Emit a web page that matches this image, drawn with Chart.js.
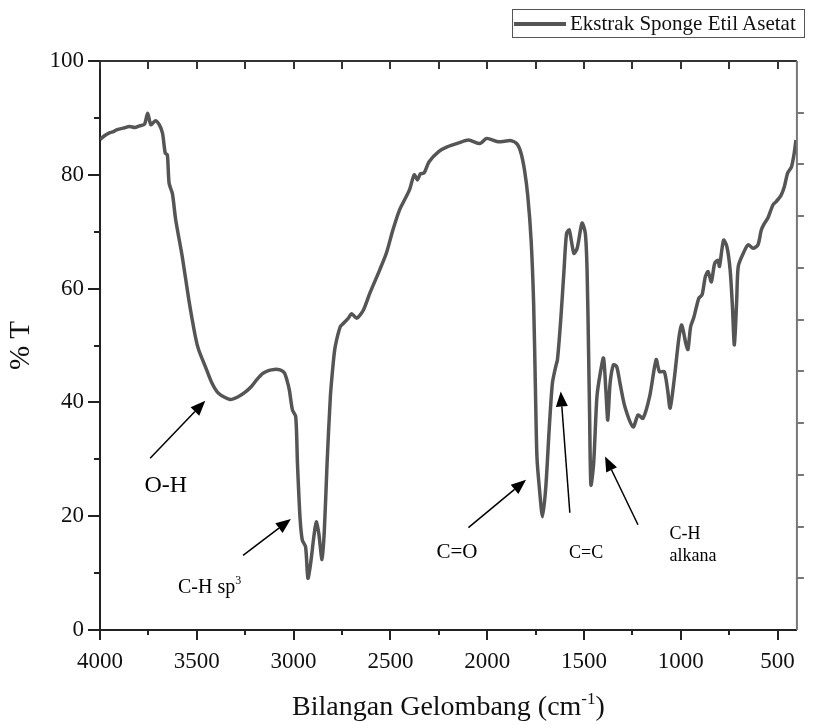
<!DOCTYPE html>
<html>
<head>
<meta charset="utf-8">
<script src="https://cdn.jsdelivr.net/npm/chart.js@4.4.1/dist/chart.umd.min.js"></script>
<style>
  html,body{margin:0;padding:0;background:#fff}
  #wrap{position:relative;width:813px;height:725px}
  #legend{position:absolute;left:512px;top:9px;width:293px;height:29px;border:1.5px solid #555;box-sizing:border-box;
    font:21px "Liberation Serif";color:#111;display:flex;align-items:center;white-space:nowrap}
  #legend .swatch{display:inline-block;width:52px;height:4px;background:#555;margin:0 4px 0 1px}
</style>
</head>
<body>
<div id="wrap">
  <canvas id="ftir" width="813" height="725" style="width:813px;height:725px"></canvas>
  <div id="legend"><span class="swatch"></span><span id="legendText"></span></div>
</div>
<script>
/* FTIR spectrum of the ethyl acetate sponge extract */
const seriesLabel = 'Ekstrak Sponge Etil Asetat';

const wavenumbers = [
  4000,3975,3949,3930,3915,3880,3847,3820,3796,3770,3754,3737,3714,3694,3677,3663,3652,3643,3626,3609,
  3575,3541,3507,3490,3456,3422,3388,3328,3286,3250,3218,3190,3159,3130,3099,3070,3048,3035,3022,3006,
  2989,2980,2967,2955,2938,2926,2912,2895,2883,2870,2853,2841,2827,2810,2795,2785,2759,2742,2717,2700,
  2674,2640,2606,2555,2521,2487,2453,2402,2377,2360,2345,2326,2300,2249,2207,2147,2096,2037,2003,1944,
  1876,1845,1825,1807,1790,1773,1760,1751,1743,1731,1714,1697,1680,1663,1646,1637,1620,1603,1590,1576,
  1552,1535,1510,1493,1484,1476,1471,1464,1450,1433,1416,1399,1387,1377,1365,1348,1331,1314,1289,1246,
  1220,1195,1161,1127,1110,1085,1068,1055,1034,1009,995,974,963,949,932,907,890,873,859,842,
  825,808,800,779,762,745,733,723,711,703,677,652,626,601,584,567,550,524,507,482,
  465,448,428,414,405
];
const transmittance = [
  86.2,86.9,87.4,87.6,87.9,88.2,88.5,88.3,88.6,88.9,90.8,88.8,89.5,88.8,87.3,83.8,83.5,78.5,76.7,72.1,
  65.6,58.0,51.5,49.2,46.3,43.4,41.6,40.5,41.0,41.8,42.8,44.0,45.1,45.6,45.8,45.7,45.2,44.0,42.2,38.7,
  37.5,29.3,19.9,15.8,14.6,9.1,11.7,16.5,19.0,17.0,12.4,17.6,29.3,41.0,47.0,49.8,53.3,53.9,54.8,55.6,
  54.8,56.2,59.2,63.3,66.2,70.3,73.8,77.3,80.0,79.1,80.2,80.3,82.3,84.1,84.9,85.6,86.1,85.5,86.4,85.8,
  86.0,85.4,83.8,80.8,76.2,68.5,57.4,42.8,30.5,25.2,19.9,25.2,35.1,43.4,46.3,47.5,54.5,63.3,69.7,70.3,
  66.2,67.1,71.5,69.7,63.3,48.6,38.0,25.5,29.3,41.0,45.1,47.8,42.2,36.9,43.4,46.6,46.3,43.4,39.3,35.7,
  37.8,37.2,41.0,47.5,45.4,45.4,42.2,39.0,44.0,51.5,53.6,50.4,49.3,53.3,55.0,58.3,58.9,62.1,63.0,61.2,
  64.4,65.0,63.9,68.5,67.4,63.3,56.8,50.1,58.0,63.9,66.2,67.7,67.1,67.7,70.3,71.5,72.4,74.7,75.3,76.4,
  77.9,80.3,81.4,83.8,86.1
];

const xTickValues = [4000,3500,3000,2500,2000,1500,1000,500];
const yTickValues = [0,20,40,60,80,100];
const xMinorStep = 250, yMinorStep = 10, rightTickCount = 11;

// band assignments: text anchor and arrow (tail -> head) in data units (cm-1, %T)
const bands = [
  {text:'O-H',    at:[3660,25.3], size:24, align:'center', tail:[3741,30.2], head:[3456,40.3]},
  {text:'C-H sp', sup:'3', at:[3597,7.4], size:20, align:'left', tail:[3261,13.1], head:[3014,19.5]},
  {text:'C=O',    at:[2156,13.6], size:21, align:'center', tail:[2097,18.0], head:[1799,26.4]},
  {text:'C=C',    at:[1489,13.5], size:18, align:'center', tail:[1573,20.6], head:[1620,41.9]},
  {text:'C-H',    at:[1058,16.9], size:18, align:'left', tail:[1221,18.5], head:[1391,30.5]},
  {text:'alkana', at:[1058,12.9], size:18, align:'left'}
];

const FONT = '"Liberation Serif", "Times New Roman", serif';
document.getElementById('legendText').textContent = seriesLabel;

function arrow(ctx, x1, y1, x2, y2){
  const ang = Math.atan2(y2-y1, x2-x1), L = 15, W = 6;
  const bx = x2 - L*Math.cos(ang), by = y2 - L*Math.sin(ang);
  ctx.beginPath(); ctx.moveTo(x1,y1); ctx.lineTo(bx,by); ctx.stroke();
  ctx.beginPath();
  ctx.moveTo(x2,y2);
  ctx.lineTo(bx + W*Math.sin(ang), by - W*Math.cos(ang));
  ctx.lineTo(bx - W*Math.sin(ang), by + W*Math.cos(ang));
  ctx.closePath(); ctx.fill();
}

const framePlugin = {
  id:'frame',
  afterDraw(chart){
    const {ctx, chartArea:a, scales:{x, y}} = chart;
    ctx.save();
    // top and right borders
    ctx.lineWidth = 2;
    ctx.strokeStyle = '#333';
    ctx.beginPath(); ctx.moveTo(a.left, a.top); ctx.lineTo(a.right, a.top); ctx.stroke();
    ctx.strokeStyle = '#777';
    ctx.beginPath(); ctx.moveTo(a.right, a.top); ctx.lineTo(a.right, a.bottom); ctx.stroke();

    // bottom + top ticks
    ctx.lineWidth = 2;
    for(let v = 4000; v >= 500; v -= xMinorStep){
      const px = Math.round(x.getPixelForValue(v));
      const major = v % 500 === 0;
      ctx.strokeStyle = '#222';
      ctx.beginPath(); ctx.moveTo(px, a.bottom); ctx.lineTo(px, a.bottom + (major ? 10 : 5)); ctx.stroke();
      ctx.strokeStyle = '#333';
      ctx.beginPath(); ctx.moveTo(px, a.top); ctx.lineTo(px, a.top + 8); ctx.stroke();
    }
    // left ticks
    ctx.strokeStyle = '#222';
    for(let v = 0; v <= 100; v += yMinorStep){
      const py = Math.round(y.getPixelForValue(v));
      const major = v % 20 === 0;
      ctx.beginPath(); ctx.moveTo(a.left, py); ctx.lineTo(a.left - (major ? 12 : 6), py); ctx.stroke();
    }
    // right ticks (mirror axis)
    ctx.strokeStyle = '#777';
    for(let i = 1; i < rightTickCount; i++){
      const py = Math.round(y.getPixelForValue(i*100/rightTickCount));
      ctx.beginPath(); ctx.moveTo(a.right, py); ctx.lineTo(a.right + 7, py); ctx.stroke();
    }

    // x axis title with superscript
    const cx = (a.left + a.right)/2, base = 715;
    ctx.fillStyle = '#111';
    ctx.textBaseline = 'alphabetic';
    ctx.font = '28px ' + FONT;
    const t1 = 'Bilangan Gelombang (cm', t3 = ')';
    const w1 = ctx.measureText(t1).width, w3 = ctx.measureText(t3).width;
    ctx.font = '17px ' + FONT;
    const w2 = ctx.measureText('-1').width;
    let sx = cx - (w1 + w2 + w3)/2;
    ctx.font = '28px ' + FONT; ctx.textAlign = 'left';
    ctx.fillText(t1, sx, base);
    ctx.font = '17px ' + FONT;
    ctx.fillText('-1', sx + w1, base - 11);
    ctx.font = '28px ' + FONT;
    ctx.fillText(t3, sx + w1 + w2, base);

    // band annotations
    ctx.strokeStyle = '#000'; ctx.fillStyle = '#000'; ctx.lineWidth = 1.5;
    bands.forEach(b => {
      if(b.tail){
        arrow(ctx, x.getPixelForValue(b.tail[0]), y.getPixelForValue(b.tail[1]),
                   x.getPixelForValue(b.head[0]), y.getPixelForValue(b.head[1]));
      }
      ctx.font = b.size + 'px ' + FONT;
      ctx.textAlign = b.align;
      ctx.textBaseline = 'middle';
      const tx = x.getPixelForValue(b.at[0]), ty = y.getPixelForValue(b.at[1]);
      ctx.fillText(b.text, tx, ty);
      if(b.sup){
        const w = ctx.measureText(b.text).width;
        ctx.font = Math.round(b.size*0.6) + 'px ' + FONT;
        ctx.textAlign = 'left';
        ctx.fillText(b.sup, b.align === 'left' ? tx + w : tx + w/2, ty - b.size*0.35);
      }
    });
    ctx.restore();
  }
};

new Chart(document.getElementById('ftir'), {
  type:'line',
  data:{
    datasets:[{
      label: seriesLabel,
      data: wavenumbers.map((w,i) => ({x:w, y:transmittance[i]})),
      borderColor:'#555',
      borderWidth:3.5,
      pointRadius:0,
      tension:0.25,
      fill:false
    }]
  },
  options:{
    responsive:false,
    animation:false,
    layout:{padding:{top:61, right:7, left:0, bottom:0}},
    plugins:{legend:{display:false}, tooltip:{enabled:false}},
    scales:{
      x:{
        type:'linear', reverse:true, min:400, max:4000,
        afterBuildTicks: s => { s.ticks = xTickValues.map(v => ({value:v})); },
        afterFit: s => { s.height = 95; },
        grid:{display:false, drawTicks:false},
        border:{display:true, color:'#222', width:2},
        ticks:{color:'#111', padding:18, maxRotation:0, autoSkip:false,
               font:{family:FONT, size:23}, callback:v => String(v)}
      },
      y:{
        min:0, max:100,
        afterBuildTicks: s => { s.ticks = yTickValues.map(v => ({value:v})); },
        afterFit: s => { s.width = 100; },
        grid:{display:false, drawTicks:false},
        border:{display:true, color:'#222', width:2},
        ticks:{color:'#111', padding:16, font:{family:FONT, size:23}},
        title:{display:true, text:'% T', color:'#111', font:{family:FONT, size:29}, padding:{top:4, bottom:0}}
      }
    }
  },
  plugins:[framePlugin]
});
</script>
</body>
</html>
